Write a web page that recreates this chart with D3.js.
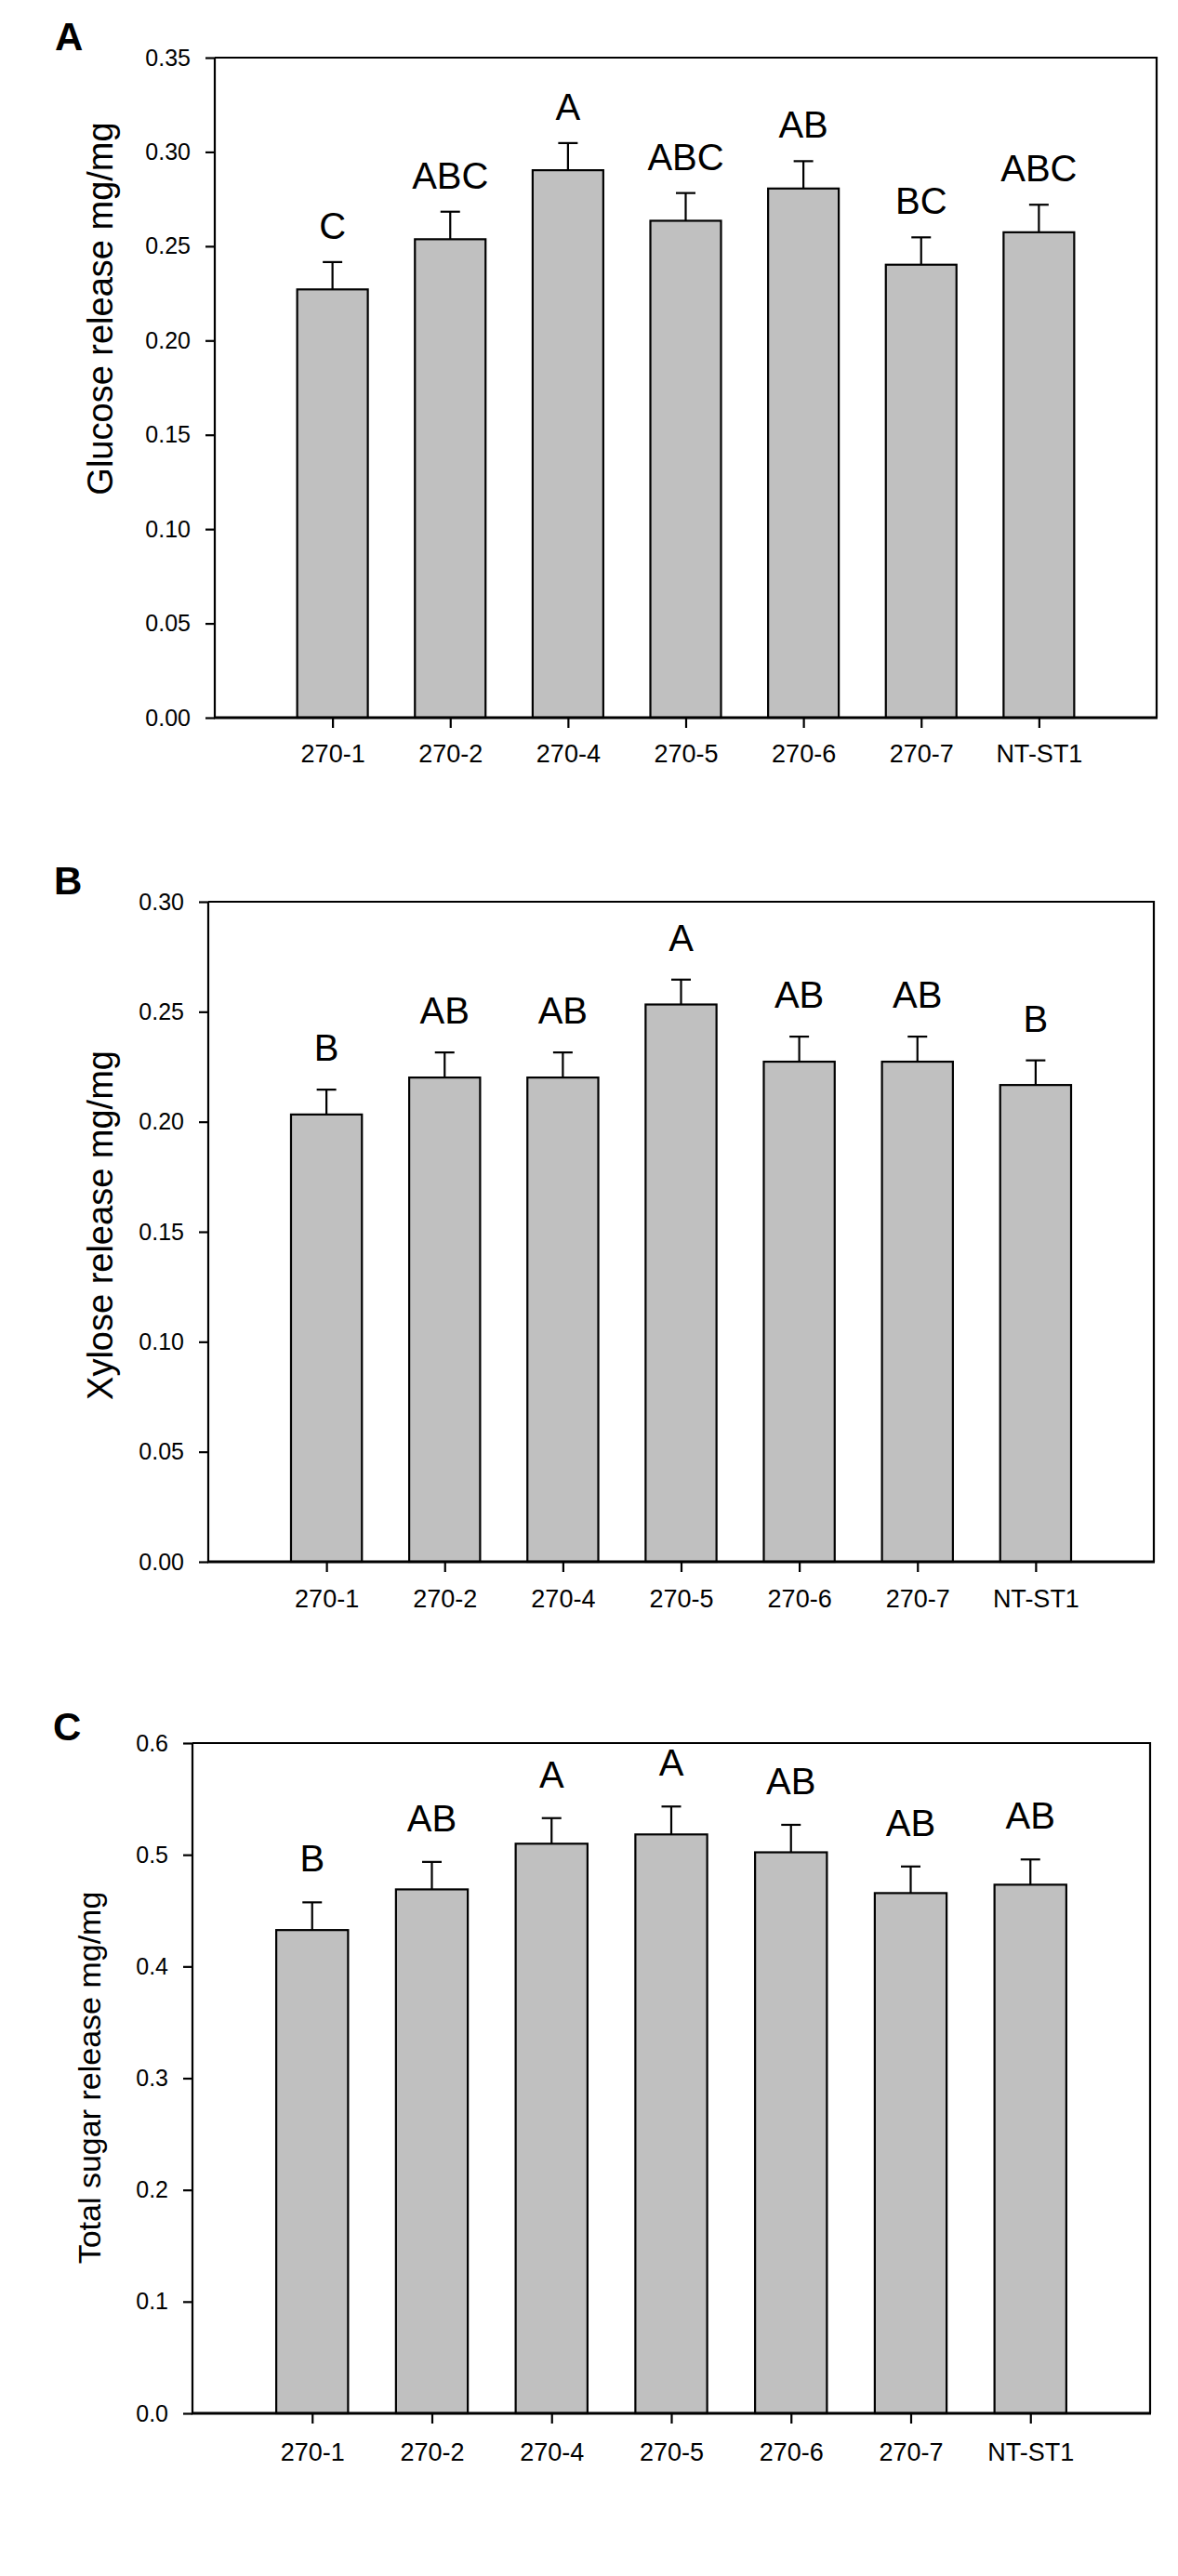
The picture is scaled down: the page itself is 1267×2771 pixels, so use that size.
<!DOCTYPE html>
<html>
<head>
<meta charset="utf-8">
<title>Sugar release</title>
<script src="https://cdn.jsdelivr.net/npm/d3@7"></script>
<style>
  body { margin: 0; background: #fff; }
  svg { display: block; }
</style>
</head>
<body>
<script>
'use strict';

// lines on the x axis (same for all three panels)
var lines = ["270-1", "270-2", "270-4", "270-5", "270-6", "270-7", "NT-ST1"];

// A - glucose
var glucoseMean   = [0.2271, 0.2537, 0.2903, 0.2635, 0.2806, 0.2402, 0.2574];
var glucoseErr    = [0.0145, 0.0146, 0.0144, 0.0147, 0.0145, 0.0145, 0.0146];
var glucoseGroups = ["C", "ABC", "A", "ABC", "AB", "BC", "ABC"];
var glucoseTicks  = [0, 0.05, 0.10, 0.15, 0.20, 0.25, 0.30, 0.35];

// B - xylose
var xyloseMean   = [0.2033, 0.2201, 0.2201, 0.2533, 0.2273, 0.2273, 0.2167];
var xyloseErr    = [0.0113, 0.0114, 0.0114, 0.0113, 0.0114, 0.0114, 0.0112];
var xyloseGroups = ["B", "AB", "AB", "A", "AB", "AB", "B"];
var xyloseTicks  = [0, 0.05, 0.10, 0.15, 0.20, 0.25, 0.30];

// C - total sugar
var totalMean   = [0.4326, 0.4690, 0.5099, 0.5182, 0.5022, 0.4657, 0.4732];
var totalErr    = [0.0248, 0.0246, 0.0229, 0.0250, 0.0246, 0.0238, 0.0226];
var totalGroups = ["B", "AB", "A", "A", "AB", "AB", "AB"];
var totalTicks  = [0, 0.1, 0.2, 0.3, 0.4, 0.5, 0.6];

var FONT = "'Liberation Sans', Arial, Helvetica, sans-serif";

window.onload = function(){

   var svg = d3.select("body").append("svg")
      .attr("width", 1267)
      .attr("height", 2771)
      .style("font-family", FONT);

   // layout of each panel (pixel box of the plot area + label spots)
   var panels = [
      {letter: "A", title: "Glucose release mg/mg", mean: glucoseMean, err: glucoseErr,
       groups: glucoseGroups, ticks: glucoseTicks, fmt: ".2f",
       left: 231, right: 1244, top: 62, bottom: 772,
       letterX: 59, letterY: 54, titleX: 121, titleY: 332, titleSize: 38,
       gap: 25, xPad: 18},
      {letter: "B", title: "Xylose release mg/mg", mean: xyloseMean, err: xyloseErr,
       groups: xyloseGroups, ticks: xyloseTicks, fmt: ".2f",
       left: 224, right: 1241, top: 970, bottom: 1680,
       letterX: 58, letterY: 962, titleX: 121, titleY: 1318, titleSize: 38,
       gap: 31, xPad: 19},
      {letter: "C", title: "Total sugar release mg/mg", mean: totalMean, err: totalErr,
       groups: totalGroups, ticks: totalTicks, fmt: ".1f",
       left: 207, right: 1237, top: 1875, bottom: 2596,
       letterX: 57, letterY: 1872, titleX: 108, titleY: 2235, titleSize: 34,
       gap: 33, xPad: 21}
   ];

   panels.forEach(function(p){ drawPanel(svg, p); });
};

function drawPanel(svg, p){
   var g = svg.append("g");

   var x = d3.scalePoint()
      .domain(lines)
      .range([p.left, p.right])
      .padding(1);

   var y = d3.scaleLinear()
      .domain([0, p.ticks[p.ticks.length - 1]])
      .range([p.bottom, p.top]);

   var barW = x.step() * 0.6;
   var capW = 21;

   var rows = lines.map(function(name, i){
      return {name: name, mean: p.mean[i], err: p.err[i], group: p.groups[i]};
   });

   // bars
   g.selectAll("rect.bar")
      .data(rows)
      .enter()
      .append("rect")
      .attr("class", "bar")
      .attr("x", function(d){ return x(d.name) - barW / 2; })
      .attr("y", function(d){ return y(d.mean); })
      .attr("width", barW)
      .attr("height", function(d){ return y(0) - y(d.mean); })
      .style("fill", "#c0c0c0")
      .style("stroke", "#000")
      .style("stroke-width", 2.2);

   // upper error bars
   var eb = g.selectAll("g.err")
      .data(rows)
      .enter()
      .append("g")
      .attr("class", "err")
      .style("stroke", "#000")
      .style("stroke-width", 2.2);

   eb.append("line")
      .attr("x1", function(d){ return x(d.name); })
      .attr("x2", function(d){ return x(d.name); })
      .attr("y1", function(d){ return y(d.mean); })
      .attr("y2", function(d){ return y(d.mean + d.err); });

   eb.append("line")
      .attr("x1", function(d){ return x(d.name) - capW / 2; })
      .attr("x2", function(d){ return x(d.name) + capW / 2; })
      .attr("y1", function(d){ return y(d.mean + d.err); })
      .attr("y2", function(d){ return y(d.mean + d.err); });

   // significance letters
   g.selectAll("text.grp")
      .data(rows)
      .enter()
      .append("text")
      .attr("class", "grp")
      .attr("x", function(d){ return x(d.name); })
      .attr("y", function(d){ return y(d.mean + d.err) - p.gap; })
      .attr("text-anchor", "middle")
      .style("font-size", "40px")
      .text(function(d){ return d.group; });

   // frame (top + right), then the axes
   g.append("path")
      .attr("d", "M" + p.left + "," + p.top + "H" + p.right + "V" + p.bottom)
      .style("fill", "none")
      .style("stroke", "#000")
      .style("stroke-width", 2.2);

   var yAxis = d3.axisLeft(y)
      .tickValues(p.ticks)
      .tickFormat(d3.format(p.fmt))
      .tickSize(10)
      .tickPadding(16)
      .tickSizeOuter(0);

   var ya = g.append("g")
      .attr("transform", "translate(" + p.left + ",0)")
      .call(yAxis)
      .attr("font-size", 25)
      .attr("font-family", FONT);
   ya.select(".domain").remove();
   ya.selectAll(".tick line").style("stroke-width", 2.2);
   ya.selectAll(".tick text").attr("fill", "#000");

   g.append("line")
      .attr("x1", p.left).attr("x2", p.left)
      .attr("y1", p.top).attr("y2", p.bottom)
      .style("stroke", "#000")
      .style("stroke-width", 2.2);

   var xAxis = d3.axisBottom(x)
      .tickSize(11)
      .tickPadding(p.xPad)
      .tickSizeOuter(0);

   var xa = g.append("g")
      .attr("transform", "translate(0," + p.bottom + ")")
      .call(xAxis)
      .attr("font-size", 27)
      .attr("font-family", FONT);
   xa.select(".domain").remove();
   xa.selectAll(".tick line").style("stroke-width", 2.2);
   xa.selectAll(".tick text").attr("fill", "#000");

   // bottom axis line, a bit heavier
   g.append("line")
      .attr("x1", p.left - 1).attr("x2", p.right + 1)
      .attr("y1", p.bottom).attr("y2", p.bottom)
      .style("stroke", "#000")
      .style("stroke-width", 3);

   // y title
   g.append("text")
      .attr("transform", "translate(" + p.titleX + "," + p.titleY + ") rotate(-90)")
      .attr("text-anchor", "middle")
      .style("font-size", p.titleSize + "px")
      .text(p.title);

   // panel letter
   g.append("text")
      .attr("x", p.letterX)
      .attr("y", p.letterY)
      .style("font-size", "42px")
      .style("font-weight", "bold")
      .text(p.letter);
}
</script>
</body>
</html>
